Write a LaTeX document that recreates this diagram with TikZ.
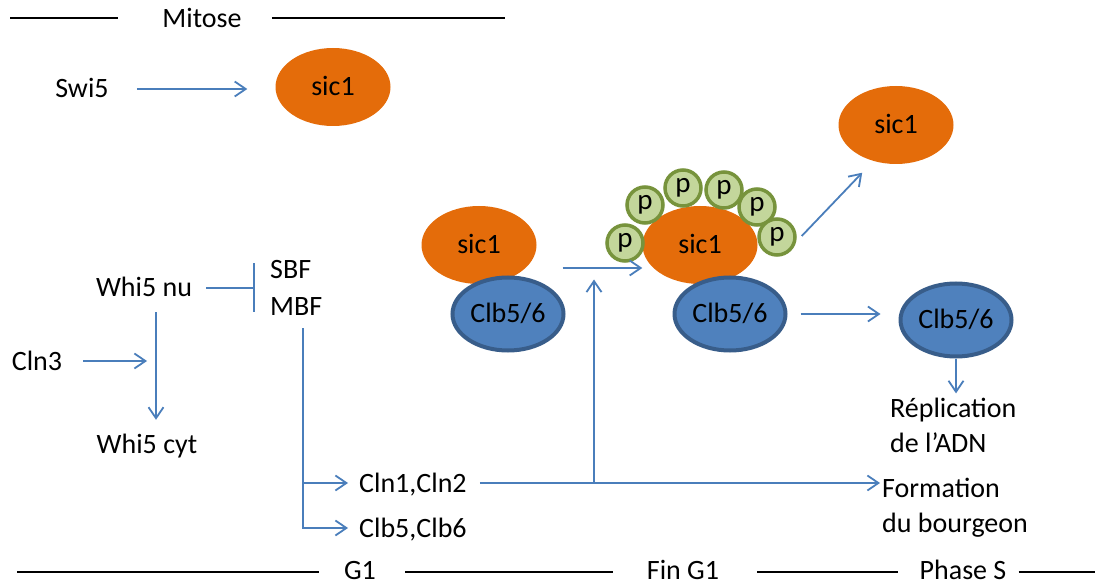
\documentclass[tikz,border=0pt]{standalone}
\usepackage{fontspec}
\setmainfont{Carlito}
\usetikzlibrary{shapes.geometric,arrows.meta}
\definecolor{sicorange}{HTML}{E46C0A}
\definecolor{clbfill}{HTML}{4F81BD}
\definecolor{clbline}{HTML}{385D8A}
\definecolor{pfill}{HTML}{C3D69B}
\definecolor{pline}{HTML}{77933C}
\definecolor{linkblue}{HTML}{4A7EBB}
\tikzset{>={Straight Barb[length=11pt,width=15pt]}}
\tikzset{
  txt/.style={inner sep=0pt,text height=18pt,text depth=0pt},
  twoline/.style={inner sep=0pt,align=left,anchor=base west},
  sic/.style={ellipse,fill=sicorange,inner sep=0pt,text height=18pt,text depth=0pt,minimum width=115pt,minimum height=78pt},
  clb/.style={ellipse,draw=clbline,line width=4pt,fill=clbfill,inner sep=0pt,text height=18pt,text depth=0pt,minimum width=111pt,minimum height=73pt},
  phos/.style={circle,draw=pline,line width=3.5pt,fill=pfill,inner sep=0pt,minimum size=36pt,font=\fontsize{29}{30}\selectfont},
  link/.style={draw=linkblue,line width=1.8pt,->},
  stop/.style={draw=linkblue,line width=1.8pt,-{Bar[width=49pt]}},
  rule/.style={draw=black,line width=2.5pt}
}
\begin{document}
\begin{tikzpicture}[x=1pt,y=-1pt,every node/.style={font=\fontsize{28}{35}\selectfont}]
\useasboundingbox (0,0) rectangle (1095,585);
\node[txt] (mitose) at (202,19) {Mitose};
\node[txt] (swi) at (82,89) {Swi5};
\node[sic] (sicM) at (333,87) {sic1};
\node[txt] (whinu) at (144,288) {Whi5 nu};
\node[txt,anchor=west] (sbf) at (270,270) {SBF};
\node[txt,anchor=west] (mbf) at (270,307) {MBF};
\node[txt] (cln3) at (37,361) {Cln3};
\node[txt] (whicyt) at (147,444) {Whi5 cyt};
\node[txt,anchor=west] (cln12) at (359,483) {Cln1,Cln2};
\node[txt,anchor=west] (clb56) at (359,528) {Clb5,Clb6};
\node[sic] (sicA) at (479,245) {sic1};
\node[clb] (clbA) at (508,314) {Clb5/6};
\node[sic] (sicB) at (700,245) {sic1};
\node[clb] (clbB) at (730,314) {Clb5/6};
\node[phos] (p1) at (625,243) {p};
\node[phos] (p2) at (645,205) {p};
\node[phos] (p3) at (683,188) {p};
\node[phos] (p4) at (724,190) {p};
\node[phos] (p5) at (757,207) {p};
\node[phos] (p6) at (777,237) {p};
\node[sic] (sicC) at (896,125) {sic1};
\node[clb] (clbC) at (956,320) {Clb5/6};
\node[twoline] (repl) at (890,452) {Réplication\\de l’ADN};
\node[twoline] (form) at (882,532) {Formation\\du bourgeon};
\node[txt] (gone) at (360,570) {G1};
\node[txt] (fing1) at (683,570) {Fin G1};
\node[txt] (phases) at (963,570) {Phase S};
\coordinate (mitL) at (10,18);
\coordinate (mitR) at (505,18);
\coordinate (bL) at (17,572);
\coordinate (bR) at (1095,572);
\coordinate (whimid) at (147,361);
\coordinate (fork) at (594,483);
\draw[rule] (mitL) -- (mitL -| mitose.west) [shorten >=44pt];
\draw[rule] (mitR -| mitose.east) -- (mitR) [shorten <=30pt];
\draw[rule] (bL) -- (bL -| gone.west) [shorten >=25pt];
\draw[rule] (bL -| gone.east) -- (bL -| fing1.west) [shorten <=29pt,shorten >=34pt];
\draw[rule] (bL -| fing1.east) -- (bL -| phases.west) [shorten <=38pt,shorten >=21pt];
\draw[rule] (bR -| phases.east) -- (bR) [shorten <=12pt];
\draw[link,shorten <=28pt,shorten >=28pt] (swi.east) -- (swi.east -| sicM.west);
\draw[stop,shorten <=14pt,shorten >=15pt] (whinu.east) -- (whinu.east -| sbf.west);
\draw[link,shorten <=15pt,shorten >=15pt] ([xshift=12pt]whinu.south) -- ([xshift=12pt]whinu.south |- whicyt.north);
\draw[link,shorten <=21pt] (cln3.east) -- (whimid);
\draw[link,shorten <=12pt,shorten >=11pt] ([xshift=7pt]mbf.south) |- (cln12.west);
\draw[link,shorten <=12pt,shorten >=11pt] ([xshift=7pt]mbf.south) |- (clb56.west);
\draw[link,shorten <=13pt,shorten >=2pt] (cln12.east) -- (cln12.east -| form.west);
\draw[link,shorten >=4pt] (fork) -- (fork |- clbA.north);
\draw[link] ([shift={(26,23)}]sicA.east) -- ([shift={(0,23)}]sicB.west);
\draw[link] ([shift={(5,-1)}]p6.east) -- ([shift={(7,20)}]sicC.south west);
\draw[link,shorten <=13pt,shorten >=18pt] (clbB.east) -- (clbB.east -| clbC.west);
\draw[link,shorten >=4pt] (clbC.south) -- (clbC.south |- repl.north);
\end{tikzpicture}
\end{document}
